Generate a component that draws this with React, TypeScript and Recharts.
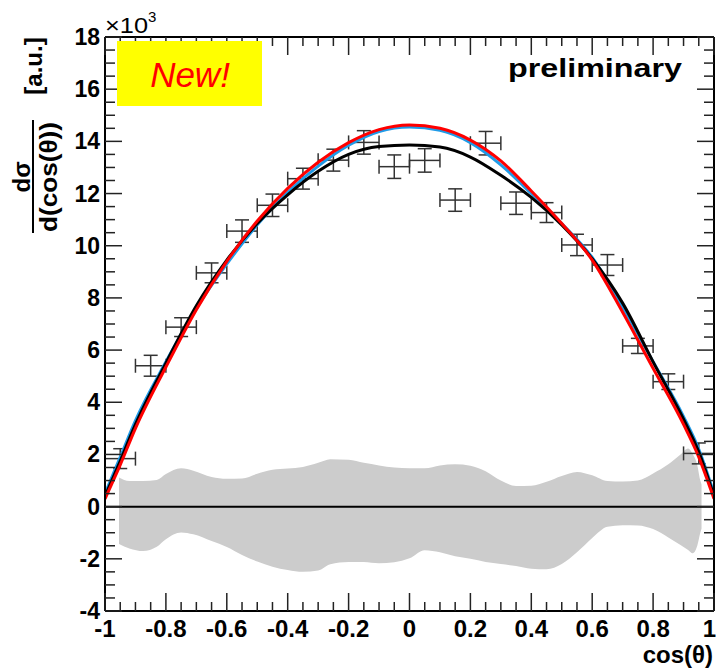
import React from 'react';
import { ComposedChart, Line, Area, Scatter, ErrorBar, XAxis, YAxis, ReferenceLine } from 'recharts';

// measured points (values in units of 10^3)
const pointX = [-0.95, -0.85, -0.75, -0.65, -0.55, -0.45, -0.35, -0.25, -0.15, -0.05, 0.05, 0.15, 0.25, 0.35, 0.45, 0.55, 0.65, 0.75, 0.85, 0.95];
const pointY = [1.84, 5.4, 6.88, 8.96, 10.56, 11.55, 12.57, 13.28, 13.96, 13.03, 13.27, 11.75, 13.93, 11.63, 11.27, 10.03, 9.26, 6.16, 4.79, 2.04];
const pointErr = [0.38, 0.4, 0.36, 0.38, 0.43, 0.43, 0.4, 0.42, 0.45, 0.45, 0.45, 0.43, 0.45, 0.43, 0.38, 0.41, 0.4, 0.29, 0.3, 0.4];
const binHalf = [0.05, 0.05, 0.05, 0.05, 0.05, 0.05, 0.05, 0.05, 0.05, 0.05, 0.05, 0.05, 0.05, 0.05, 0.05, 0.05, 0.05, 0.05, 0.05, 0.05];

// fitted curves
const curveX = [-1, -0.95, -0.9, -0.8, -0.7, -0.6, -0.5, -0.4, -0.3, -0.2, -0.1, 0, 0.1, 0.2, 0.3, 0.4, 0.5, 0.6, 0.7, 0.8, 0.9, 0.95, 1];
const redCurve = [0.3, 1.6, 3.0, 5.35, 7.55, 9.4, 10.95, 12.2, 13.2, 13.95, 14.45, 14.63, 14.5, 14.05, 13.25, 12.1, 10.85, 9.45, 7.45, 5.3, 3.15, 1.9, 0.3];
const blueCurve = [0.5, 1.9, 3.3, 5.55, 7.6, 9.3, 10.8, 12.05, 13.05, 13.85, 14.38, 14.55, 14.42, 13.95, 13.1, 12.0, 10.85, 9.55, 7.65, 5.55, 3.45, 2.2, 0.5];
const blackCurve = [0.4, 1.75, 3.15, 5.5, 7.7, 9.45, 10.85, 11.95, 12.85, 13.5, 13.8, 13.86, 13.78, 13.4, 12.7, 11.85, 10.8, 9.5, 7.8, 5.55, 3.35, 2.1, 0.4];

// systematic uncertainty band
const bandX = [-0.954, -0.92, -0.875, -0.83, -0.8, -0.75, -0.71, -0.65, -0.6, -0.55, -0.5, -0.45, -0.4, -0.35, -0.3, -0.26, -0.2, -0.15, -0.1, -0.05, 0, 0.05, 0.1, 0.15, 0.2, 0.25, 0.3, 0.35, 0.4, 0.45, 0.5, 0.55, 0.6, 0.65, 0.7, 0.75, 0.8, 0.85, 0.89, 0.915, 0.93, 0.945, 0.955, 0.959];
const bandHigh = [1.12, 0.98, 0.98, 1.02, 1.25, 1.47, 1.38, 1.14, 1.07, 1.08, 1.26, 1.41, 1.46, 1.52, 1.68, 1.82, 1.8, 1.68, 1.58, 1.5, 1.47, 1.47, 1.58, 1.62, 1.57, 1.36, 1.0, 0.79, 0.8, 0.95, 1.17, 1.33, 1.2, 0.98, 0.96, 1.0, 1.27, 1.62, 2.0, 2.23, 2.02, 1.6, 1.0, 0.85];
const bandLow = [-1.43, -1.6, -1.7, -1.54, -1.25, -0.99, -1.06, -1.32, -1.55, -1.85, -2.1, -2.3, -2.43, -2.5, -2.45, -2.21, -2.12, -2.12, -2.17, -2.13, -1.98, -1.67, -1.75, -1.9, -2.0, -2.12, -2.2, -2.28, -2.38, -2.4, -2.2, -1.75, -1.2, -0.77, -0.71, -0.72, -0.86, -1.18, -1.47, -1.66, -1.79, -1.5, -1.0, -0.85];

const xMajor = [-1, -0.8, -0.6, -0.4, -0.2, 0, 0.2, 0.4, 0.6, 0.8, 1];
const xLabels = ['-1', '-0.8', '-0.6', '-0.4', '-0.2', '0', '0.2', '0.4', '0.6', '0.8', '1'];
const yMajor = [-4, -2, 0, 2, 4, 6, 8, 10, 12, 14, 16, 18];
const yLabels = ['-4', '-2', '0', '2', '4', '6', '8', '10', '12', '14', '16', '18'];

const xTicks: number[] = [];
for (let i = -20; i <= 20; i++) xTicks.push(i / 20);
const yTicks: number[] = [];
for (let i = -8; i <= 36; i++) yTicks.push(i / 2);

const FONT = '"Liberation Sans", Arial, sans-serif';
const TICK = '#222';

const majorIndex = (list: number[], v: number) => list.findIndex((m) => Math.abs(m - v) < 1e-6);

const BottomTick = (props: any) => {
  const { x, y, payload } = props;
  const i = majorIndex(xMajor, payload.value);
  const len = i >= 0 ? 18 : 9;
  const last = i === xMajor.length - 1;
  return (
    <g>
      <line x1={x} y1={y} x2={x} y2={y - len} stroke={TICK} strokeWidth={1.5} />
      {i >= 0 && (
        <text
          x={last ? x + 2 : x}
          y={y + 26}
          textAnchor={last ? 'end' : 'middle'}
          fontFamily={FONT}
          fontWeight="bold"
          fontSize={24}
          fill="#000"
        >
          {xLabels[i]}
        </text>
      )}
    </g>
  );
};

const TopTick = (props: any) => {
  const { x, y, payload } = props;
  const len = majorIndex(xMajor, payload.value) >= 0 ? 18 : 9;
  return <line x1={x} y1={y} x2={x} y2={y + len} stroke={TICK} strokeWidth={1.5} />;
};

const LeftTick = (props: any) => {
  const { x, y, payload } = props;
  const i = majorIndex(yMajor, payload.value);
  const len = i >= 0 ? 17 : 10;
  return (
    <g>
      <line x1={x} y1={y} x2={x + len} y2={y} stroke={TICK} strokeWidth={1.5} />
      {i >= 0 && (
        <text x={x - 5} y={y + 8} textAnchor="end" fontFamily={FONT} fontWeight="bold" fontSize={23} fill="#000">
          {yLabels[i]}
        </text>
      )}
    </g>
  );
};

const RightTick = (props: any) => {
  const { x, y, payload } = props;
  const len = majorIndex(yMajor, payload.value) >= 0 ? 17 : 10;
  return <line x1={x} y1={y} x2={x - len} y2={y} stroke={TICK} strokeWidth={1.5} />;
};

export default function App() {
  const points = pointX.map((x, i) => ({ x, y: pointY[i], ey: pointErr[i], ex: binHalf[i] }));
  const red = curveX.map((x, i) => ({ x, v: redCurve[i] }));
  const blue = curveX.map((x, i) => ({ x, v: blueCurve[i] }));
  const black = curveX.map((x, i) => ({ x, v: blackCurve[i] }));
  const band = bandX.map((x, i) => ({ x, range: [bandLow[i], bandHigh[i]] }));

  const frame = { stroke: '#000', strokeWidth: 2 };

  return (
    <div style={{ position: 'absolute', left: 0, top: 0, width: 716, height: 672, background: '#fff' }}>
      <ComposedChart width={716} height={672} margin={{ top: 36, right: 1, bottom: 60, left: 0 }}>
        <XAxis
          type="number"
          dataKey="x"
          domain={[-1, 1]}
          ticks={xTicks}
          interval={0}
          allowDataOverflow
          height={1}
          tickSize={0}
          tickMargin={0}
          tickLine={false}
          axisLine={frame}
          tick={<BottomTick />}
        />
        <XAxis
          xAxisId="top"
          orientation="top"
          type="number"
          dataKey="x"
          domain={[-1, 1]}
          ticks={xTicks}
          interval={0}
          allowDataOverflow
          height={1}
          tickSize={0}
          tickMargin={0}
          tickLine={false}
          axisLine={frame}
          tick={<TopTick />}
        />
        <YAxis
          type="number"
          domain={[-4, 18]}
          ticks={yTicks}
          interval={0}
          allowDataOverflow
          width={105}
          tickSize={0}
          tickMargin={0}
          tickLine={false}
          axisLine={frame}
          tick={<LeftTick />}
        />
        <YAxis
          yAxisId="right"
          orientation="right"
          type="number"
          domain={[-4, 18]}
          ticks={yTicks}
          interval={0}
          allowDataOverflow
          width={1}
          tickSize={0}
          tickMargin={0}
          tickLine={false}
          axisLine={frame}
          tick={<RightTick />}
        />
        <Area data={band} dataKey="range" type="monotone" fill="#cccccc" fillOpacity={1} stroke="none" isAnimationActive={false} />
        <ReferenceLine y={0} stroke="#000" strokeWidth={2} />
        <Scatter data={points} dataKey="y" shape={() => <g />} isAnimationActive={false}>
          <ErrorBar dataKey="ey" direction="y" width={7} stroke="#333" strokeWidth={1.5} />
          <ErrorBar dataKey="ex" direction="x" width={7} stroke="#333" strokeWidth={1.5} />
        </Scatter>
        <Line data={blue} dataKey="v" type="monotone" stroke="#1f9be8" strokeWidth={3} dot={false} isAnimationActive={false} />
        <Line data={black} dataKey="v" type="monotone" stroke="#000" strokeWidth={3} dot={false} isAnimationActive={false} />
        <Line data={red} dataKey="v" type="monotone" stroke="#ff0000" strokeWidth={3} dot={false} isAnimationActive={false} />
      </ComposedChart>
      <svg width={716} height={672} style={{ position: 'absolute', left: 0, top: 0, pointerEvents: 'none' }} fontFamily={FONT}>
        <rect x={117} y={41} width={145} height={65} fill="#ffff00" />
        <text x={190} y={87} textAnchor="middle" fontSize={35} fontStyle="italic" fill="#ff0000">New!</text>
        <text x={508} y={77} fontSize={25} fontWeight="bold" textLength={174} lengthAdjust="spacingAndGlyphs">preliminary</text>
        <text x={105} y={33} fontSize={22} textLength={43} lengthAdjust="spacingAndGlyphs">×10</text>
        <text x={148} y={22} fontSize={15}>3</text>
        <text x={713} y={663} textAnchor="end" fontSize={24} fontWeight="bold">cos(θ)</text>
        <text transform="translate(42,66) rotate(-90)" textAnchor="middle" fontSize={24} fontWeight="bold">[a.u.]</text>
        <text transform="translate(30,177) rotate(-90)" textAnchor="middle" fontSize={24} fontWeight="bold">dσ</text>
        <line x1={33} y1={120} x2={33} y2={233} stroke="#000" strokeWidth={2} />
        <text transform="translate(57,177) rotate(-90)" textAnchor="middle" fontSize={24} fontWeight="bold" textLength={110} lengthAdjust="spacingAndGlyphs">d(cos(θ))</text>
      </svg>
    </div>
  );
}
